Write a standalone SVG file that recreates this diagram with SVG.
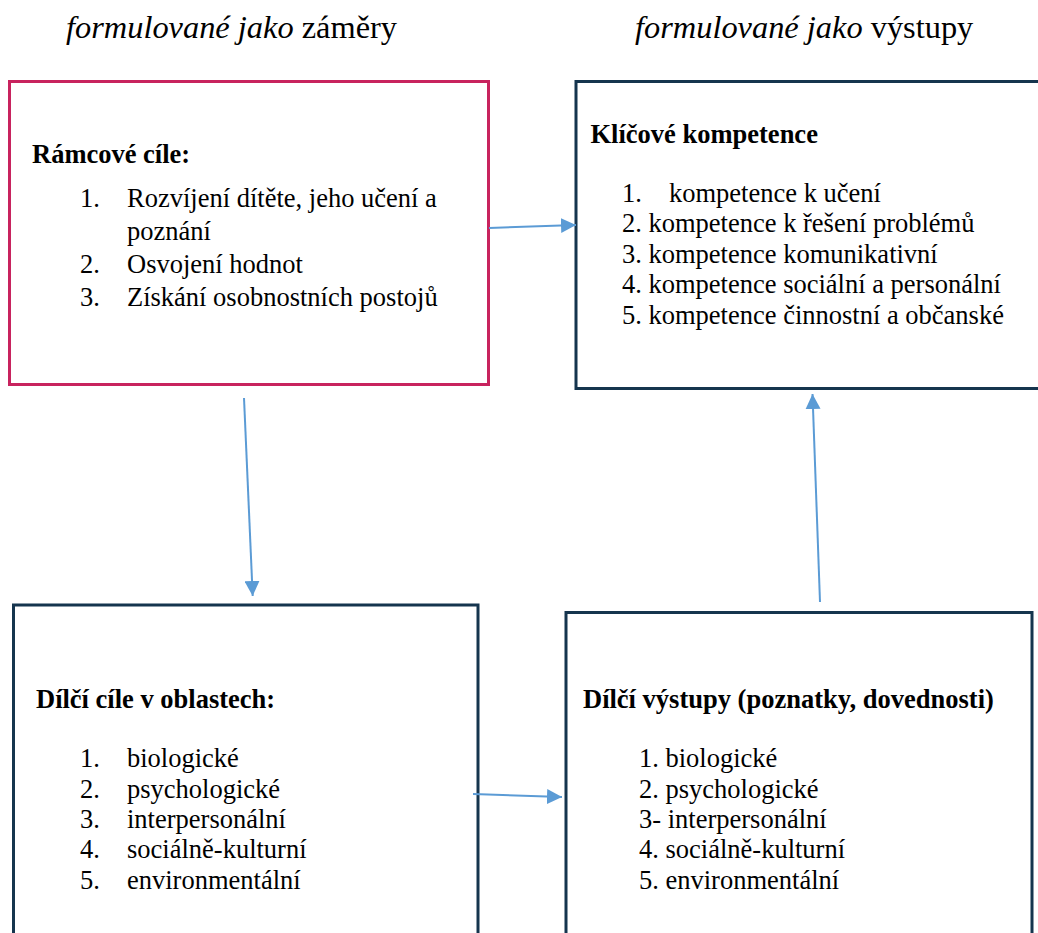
<svg xmlns="http://www.w3.org/2000/svg" width="1038" height="933" viewBox="0 0 1038 933">
<defs>
<style>
text{font-family:"Liberation Serif","Times New Roman",serif;fill:#000;}
.h{font-size:32.4px;}
.i{font-style:italic;}
.b{font-weight:bold;font-size:26.5px;}
.t{font-size:26.5px;}
.pink{fill:#fff;stroke:#C8235E;stroke-width:3;}
.navy{fill:#fff;stroke:#15354E;stroke-width:3;}
.c{stroke:#5B9BD5;stroke-width:2;fill:none;marker-end:url(#ah);}
</style>
<marker id="ah" viewBox="0 0 10 10" refX="10" refY="5" markerWidth="7.5" markerHeight="7.5" markerUnits="strokeWidth" orient="auto">
<path d="M0,0 L10,5 L0,10 z" fill="#5B9BD5"/>
</marker>
</defs>
<rect width="1038" height="933" fill="#fff"/>
<g id="headers">
<text class="h" x="66" y="38"><tspan class="i">formulované jako</tspan> záměry</text>
<text class="h" x="635" y="38"><tspan class="i">formulované jako</tspan> výstupy</text>
</g>
<g id="node-ramcove">
<rect class="pink" x="9.5" y="81.5" width="479" height="303"/>
<text class="b" x="32" y="163">Rámcové cíle:</text>
<text class="t" x="80" y="207">1.</text><text class="t" x="127" y="207">Rozvíjení dítěte, jeho učení a</text>
<text class="t" x="127" y="240">poznání</text>
<text class="t" x="80" y="273">2.</text><text class="t" x="127" y="273">Osvojení hodnot</text>
<text class="t" x="80" y="306">3.</text><text class="t" x="127" y="306">Získání osobnostních postojů</text>
</g>
<g id="node-klicove">
<rect class="navy" x="576" y="81.5" width="480" height="307"/>
<text class="b" x="590.5" y="143">Klíčové kompetence</text>
<text class="t" x="622" y="202">1.</text><text class="t" x="669" y="202">kompetence k učení</text>
<text class="t" x="622" y="232">2. kompetence k řešení problémů</text>
<text class="t" x="622" y="263">3. kompetence komunikativní</text>
<text class="t" x="622" y="293">4. kompetence sociální a personální</text>
<text class="t" x="622" y="324">5. kompetence činnostní a občanské</text>
</g>
<g id="node-dilci-cile">
<rect class="navy" x="13.5" y="605" width="464.5" height="340"/>
<text class="b" x="36" y="708">Dílčí cíle v oblastech:</text>
<text class="t" x="80" y="767">1.</text><text class="t" x="127" y="767">biologické</text>
<text class="t" x="80" y="798">2.</text><text class="t" x="127" y="798">psychologické</text>
<text class="t" x="80" y="828">3.</text><text class="t" x="127" y="828">interpersonální</text>
<text class="t" x="80" y="858">4.</text><text class="t" x="127" y="858">sociálně-kulturní</text>
<text class="t" x="80" y="889">5.</text><text class="t" x="127" y="889">environmentální</text>
</g>
<g id="node-dilci-vystupy">
<rect class="navy" x="566" y="612.5" width="466" height="340"/>
<text class="b" x="583" y="708">Dílčí výstupy (poznatky, dovednosti)</text>
<text class="t" x="639" y="767">1. biologické</text>
<text class="t" x="639" y="798">2. psychologické</text>
<text class="t" x="639" y="828">3- interpersonální</text>
<text class="t" x="639" y="858">4. sociálně-kulturní</text>
<text class="t" x="639" y="889">5. environmentální</text>
</g>
<g id="connectors">
<path class="c" d="M489,228 L576,225"/>
<path class="c" d="M244,398 L252.7,596"/>
<path class="c" d="M820,602 L812.5,394"/>
<path class="c" d="M473,794 L562,797"/>
</g>
</svg>
